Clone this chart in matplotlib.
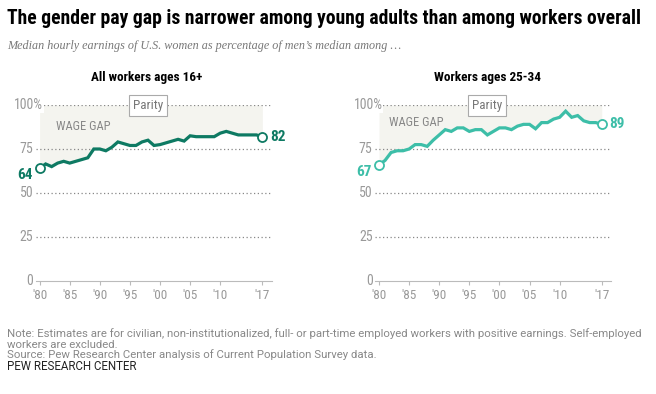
import matplotlib
matplotlib.use("Agg")
import matplotlib.pyplot as plt
from matplotlib import font_manager

names = {f.name for f in font_manager.fontManager.ttflist}


def first_font(cands):
    for cand in cands:
        if cand in names:
            return cand
    return 'DejaVu Sans'


sans = first_font(['Roboto Condensed', 'Liberation Sans Narrow', 'Liberation Sans', 'Roboto'])
note_font = first_font(['Roboto', 'Liberation Sans', 'Noto Sans'])
plt.rcParams['font.family'] = [sans, 'DejaVu Sans']

years = list(range(1980, 2018))
all_workers = [64, 66.5, 65, 67, 68, 67, 68, 69, 70, 75, 75, 74, 76, 79, 78, 77,
               77, 79, 80, 77, 77.5, 78.5, 79.5, 80.5, 79.5, 82.5, 82, 82, 82, 82,
               84, 85, 84, 83, 83, 83, 83, 82]
young_workers = [66, 68.5, 73, 74, 74, 75, 77.5, 77.5, 76.5, 80, 83, 86, 85, 87, 87, 85,
                 86, 86, 83, 85, 87, 87, 86, 88, 89, 89, 86.5, 90, 90, 92, 93, 96.5,
                 93, 94, 91, 90, 90, 89]
end_labels = [("64", "82"), ("67", "89")]
panel_titles = ["All workers ages 16+", "Workers ages 25-34"]
xtick_years = [1980, 1985, 1990, 1995, 2000, 2005, 2010, 2017]
xtick_labels = ["'80", "'85", "'90", "'95", "'00", "'05", "'10", "'17"]
ytick_vals = [0, 25, 50, 75, 100]
colors = ['#0e7a63', '#3dbea8']
wage_gap_pos = [(1982.7, 88), (1981.7, 90)]

W, H = 656, 394
fig = plt.figure(figsize=(W / 100, H / 100), dpi=100)
renderer = fig.canvas.get_renderer()


def fit_width(t, width_px):
    # scale the font so the text spans the same width as in the reference
    w = t.get_window_extent(renderer).width
    t.set_fontsize(t.get_fontsize() * width_px / w)


title = fig.text(7 / W, 1 - 18 / H, "The gender pay gap is narrower among young adults than among workers overall",
                 fontsize=13.5, fontweight='bold', va='center', ha='left', color='black')
fit_width(title, 635)
sub = fig.text(7 / W, 1 - 46 / H, "Median hourly earnings of U.S. women as percentage of men\u2019s median among \u2026",
               fontsize=10.5, style='italic', family=['Liberation Serif', 'DejaVu Serif'],
               va='center', ha='left', color='#777777')
fit_width(sub, 398)

gray = '#999999'
for i, series in enumerate([all_workers, young_workers]):
    left_px = [36, 375.4][i]
    ax = fig.add_axes([left_px / W, (H - 281) / H, 236 / W, 176 / H])
    ax.set_xlim(1979.4, 2018.6)
    ax.set_ylim(0, 100)
    for s in ['top', 'right', 'left']:
        ax.spines[s].set_visible(False)
    ax.spines['bottom'].set_color('#bbbbbb')
    ax.spines['bottom'].set_linewidth(0.8)
    ax.set_xticks(xtick_years)
    ax.set_xticklabels(xtick_labels)
    ax.tick_params(axis='x', length=3, color='#bbbbbb', labelcolor=gray, labelsize=9.5, pad=3)
    ax.set_yticks([])

    for v in ytick_vals[1:]:
        ax.axhline(v, color='#888888', lw=0.9, ls=(0, (1, 2)), zorder=1)
    for v in ytick_vals:
        if v == 100:
            ax.text(0.03, v, "100%", transform=ax.get_yaxis_transform(), ha='right', va='center',
                    fontsize=10, color=gray, zorder=3,
                    bbox=dict(facecolor='white', edgecolor='none', pad=0.5))
        else:
            ax.text(-0.012, v, str(v), transform=ax.get_yaxis_transform(), ha='right', va='center',
                    fontsize=10, color=gray, clip_on=False)

    ax.fill_between(years, series, 100, color='#f4f4ef', lw=0, zorder=0)
    ax.plot(years, series, color=colors[i], lw=2.3, solid_joinstyle='miter', zorder=4)
    ax.plot([years[0], years[-1]], [series[0], series[-1]], 'o', ms=6.5, mfc='white',
            mec=colors[i], mew=1.3, zorder=5, clip_on=False)

    ax.annotate(end_labels[i][0], (years[0], series[0]), xytext=(-5, -5), textcoords='offset points',
                ha='right', va='center', fontsize=11, fontweight='bold', color=colors[i])
    ax.annotate(end_labels[i][1], (years[-1], series[-1]), xytext=(5.5, 0), textcoords='offset points',
                ha='left', va='center', fontsize=11, fontweight='bold', color=colors[i],
                annotation_clip=False)

    ax.text(1998, 99.5, "Parity", ha='center', va='center', fontsize=9.5, color='#777777', zorder=6,
            bbox=dict(facecolor='white', edgecolor='#aaaaaa', lw=0.8, boxstyle='square,pad=0.3'),
            clip_on=False)
    ax.text(wage_gap_pos[i][0], wage_gap_pos[i][1], "WAGE GAP", ha='left', va='center',
            fontsize=9, color='#888888', zorder=6)

    fig.text([147, 487.5][i] / W, 1 - 77 / H, panel_titles[i], ha='center', va='center',
             fontsize=9.5, fontweight='bold', color='black')

notes = ["Note: Estimates are for civilian, non-institutionalized, full- or part-time employed workers with positive earnings. Self-employed",
         "workers are excluded.",
         "Source: Pew Research Center analysis of Current Population Survey data."]
note_texts = [fig.text(7 / W, 1 - [334, 344.5, 354.5][k] / H, line, fontsize=8, color='#888888',
                       family=[note_font, 'DejaVu Sans'], ha='left', va='center')
              for k, line in enumerate(notes)]
fit_width(note_texts[0], 638)
for t in note_texts[1:]:
    t.set_fontsize(note_texts[0].get_fontsize())
pew = fig.text(7 / W, 1 - 367 / H, "PEW RESEARCH CENTER", fontsize=8, color='#222222',
               family=[note_font, 'DejaVu Sans'], ha='left', va='center')
fit_width(pew, 129)

fig.savefig("out.png", dpi=100)
